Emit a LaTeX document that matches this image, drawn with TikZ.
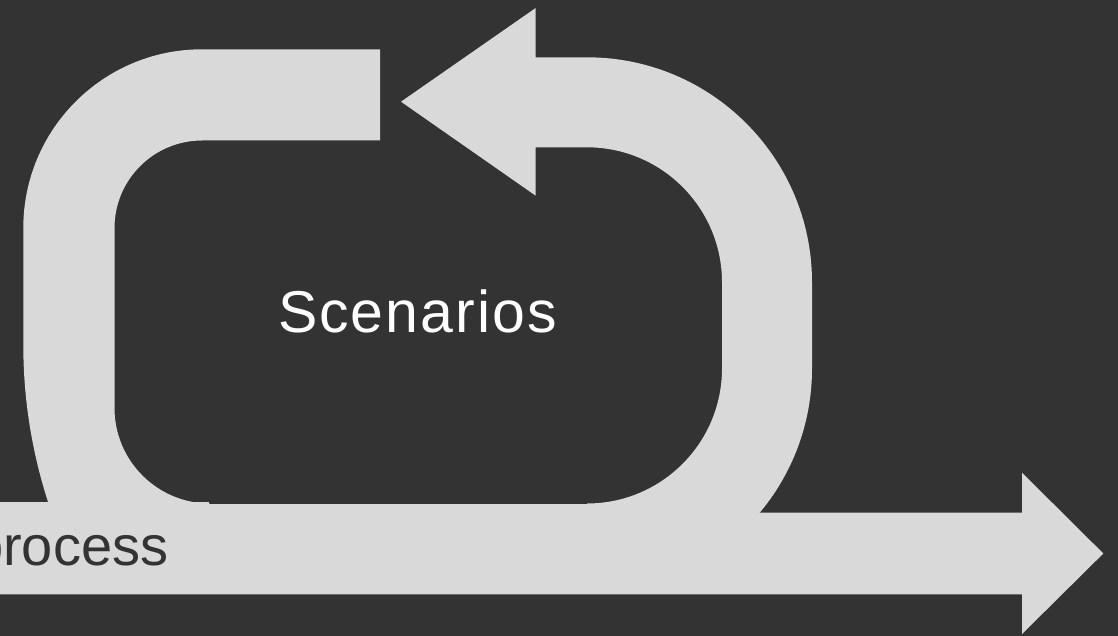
\documentclass[tikz,border=0pt]{standalone}
\usepackage{fontspec}
\setmainfont{Liberation Sans}
\definecolor{bgdark}{HTML}{333333}
\definecolor{lightfill}{HTML}{D9D9D9}
\begin{document}
\begin{tikzpicture}[x=1pt,y=-1pt,
  shapefill/.style={fill=lightfill,draw=none},
  bigtext/.style={font=\fontsize{56}{60}\selectfont,inner sep=0pt}]
\useasboundingbox (0,0) rectangle (1118,636);
\clip (0,0) rectangle (1118,636);
\fill[bgdark] (0,0) rectangle (1118,636);
% left loop piece
\path[shapefill] (380,49.3) -- (202,49.3)
  arc[start angle=90,end angle=180,radius=178.7pt]
  -- (23.3,345) arc[start angle=180,end angle=198,radius=510pt]
  -- (210,503.5)
  arc[start angle=270,end angle=180,radius=95.5pt]
  -- (114.5,228) arc[start angle=180,end angle=90,radius=87.5pt]
  -- (380,140.5) -- cycle;
% right loop piece with arrow head
\path[shapefill] (401,101.7) -- (535.7,8) -- (535.7,57.3) -- (587,57.3)
  arc[start angle=90,end angle=0,radius=225pt]
  -- (812,368.5) arc[start angle=0,end angle=-90,radius=225pt]
  -- (587,503.5) arc[start angle=-90,end angle=0,radius=135pt]
  -- (722,282.3) arc[start angle=0,end angle=90,radius=135pt]
  -- (535.7,147.3) -- (535.7,195.7) -- cycle;
% bottom band of loop
\path[shapefill] (205,503.5) rectangle (600,594.3);
% process label box
\path[shapefill] (-5,502) rectangle (209,594.3);
% horizontal process arrow
\path[shapefill] (-5,512.7) -- (1022,512.7) -- (1022,472.7) -- (1103.3,553.5)
  -- (1022,634) -- (1022,594.3) -- (-5,594.3) -- cycle;
\node[bigtext,font=\fontsize{59}{62}\selectfont,text=white,anchor=base] (scen) at (417.5,332)
  {\addfontfeature{LetterSpace=3.5}Scenarios};
\node[bigtext,text=bgdark,anchor=base east] (proc) at (168.4,565.5) {process};
\end{tikzpicture}
\end{document}
